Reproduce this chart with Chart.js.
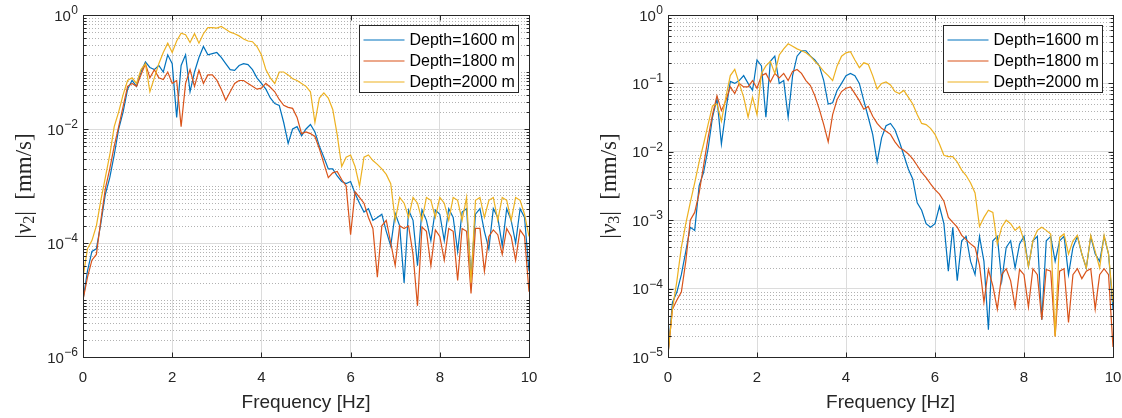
<!DOCTYPE html>
<html>
<head>
<meta charset="utf-8">
<title>|v2| and |v3| spectra</title>
<script src="https://cdn.jsdelivr.net/npm/chart.js@4.4.1/dist/chart.umd.min.js"></script>
<style>
  body { margin: 0; background: #fff; }
  #wrap { position: relative; width: 1122px; height: 418px; }
  canvas { position: absolute; top: 0; }
</style>
</head>
<body>
<div id="wrap">
  <canvas id="chartV2" width="561" height="418" style="left:0"></canvas>
  <canvas id="chartV3" width="561" height="418" style="left:561px"></canvas>
</div>
<script>
// === Dados (frequência em Hz, amplitude em mm/s) ===
const freq = [
  0, 0.1, 0.2, 0.3, 0.4, 0.5, 0.6, 0.7, 0.8, 0.9,
  1, 1.1, 1.2, 1.3, 1.4, 1.5, 1.6, 1.7, 1.8, 1.9,
  2, 2.1, 2.2, 2.3, 2.4, 2.5, 2.6, 2.7, 2.8, 2.9,
  3, 3.1, 3.2, 3.3, 3.4, 3.5, 3.6, 3.7, 3.8, 3.9,
  4, 4.1, 4.2, 4.3, 4.4, 4.5, 4.6, 4.7, 4.8, 4.9,
  5, 5.1, 5.2, 5.3, 5.4, 5.5, 5.6, 5.7, 5.8, 5.9,
  6, 6.1, 6.2, 6.3, 6.4, 6.5, 6.6, 6.7, 6.8, 6.9,
  7, 7.1, 7.2, 7.3, 7.4, 7.5, 7.6, 7.7, 7.8, 7.9,
  8, 8.1, 8.2, 8.3, 8.4, 8.5, 8.6, 8.7, 8.8, 8.9,
  9, 9.1, 9.2, 9.3, 9.4, 9.5, 9.6, 9.7, 9.8, 9.9,
  10
];

// |v2| (gráfico da esquerda)
const v2Depth1600 = [
  1e-5, 3.2e-5, 7.1e-5, 7.9e-5, 2.2e-4, 7.1e-4, 1.4e-3, 3.5e-3, 0.01, 0.02,
  0.05, 0.071, 0.056, 0.1, 0.15, 0.12, 0.11, 0.13, 0.1, 0.2,
  0.14, 0.016, 0.13, 0.2, 0.045, 0.1, 0.18, 0.28, 0.2, 0.21,
  0.22, 0.18, 0.14, 0.11, 0.107, 0.13, 0.14, 0.135, 0.11, 0.079,
  0.063, 0.05, 0.035, 0.028, 0.026, 0.013, 0.0056, 0.01, 0.011, 0.0076,
  0.01, 0.012, 0.0089, 0.005, 0.0032, 0.002, 0.002, 0.0015, 0.0012, 0.0011,
  0.0012, 7.4e-4, 5e-4, 3.5e-4, 4e-4, 2.5e-4, 2.8e-4, 3.2e-4, 1.6e-4, 8.9e-5,
  3.3e-4, 2e-4, 2e-5, 3.8e-4, 2.5e-4, 4e-5, 3.8e-4, 2.5e-4, 1.1e-4, 3.8e-4,
  3.2e-4, 1.1e-4, 4e-4, 2.8e-4, 7.1e-5, 3.5e-4, 4e-4, 2.5e-5, 3.2e-4, 4e-4,
  1.6e-4, 7.9e-5, 4e-4, 2.8e-4, 8.9e-5, 4e-4, 2.5e-4, 1e-4, 4e-4, 2.8e-4,
  3.2e-5
];
const v2Depth1800 = [
  1e-5, 2.5e-5, 5e-5, 6.3e-5, 2.5e-4, 8.9e-4, 2e-3, 5e-3, 0.011, 0.025,
  0.056, 0.063, 0.056, 0.089, 0.14, 0.079, 0.11, 0.079, 0.074, 0.1,
  0.063, 0.071, 0.011, 0.063, 0.11, 0.056, 0.107, 0.063, 0.089, 0.089,
  0.072, 0.05, 0.032, 0.045, 0.063, 0.071, 0.071, 0.063, 0.056, 0.05,
  0.052, 0.063, 0.054, 0.045, 0.033, 0.026, 0.024, 0.023, 0.016, 0.0083,
  0.0089, 0.0083, 0.0074, 0.0045, 0.0025, 0.0014, 0.0017, 0.0018, 0.0013, 0.001,
  1.4e-4, 7.9e-4, 6.3e-4, 5e-4, 2.8e-4, 1.8e-4, 2.5e-5, 2e-4, 2.5e-4, 1e-4,
  4e-5, 2e-4, 1.8e-4, 2e-4, 6.3e-5, 7.9e-6, 1.9e-4, 1.6e-4, 4e-5, 1.7e-4,
  1.3e-4, 5e-5, 1.8e-4, 1.6e-4, 2.2e-5, 1.8e-4, 1.6e-4, 1.3e-5, 1.8e-4, 1.8e-4,
  3.2e-5, 1.3e-4, 1.7e-4, 1.4e-4, 6.3e-5, 1.8e-4, 1.3e-4, 5e-5, 1.7e-4, 1.3e-4,
  1.4e-5
];
const v2Depth2000 = [
  2.5e-5, 7.9e-5, 1.1e-4, 2e-4, 5.6e-4, 1.4e-3, 3.5e-3, 0.011, 0.02, 0.04,
  0.071, 0.079, 0.063, 0.11, 0.14, 0.045, 0.079, 0.14, 0.22, 0.32,
  0.22, 0.35, 0.48, 0.45, 0.33, 0.47, 0.32, 0.47, 0.6, 0.6,
  0.59, 0.63, 0.56, 0.5, 0.47, 0.43, 0.38, 0.35, 0.34, 0.28,
  0.2, 0.11, 0.079, 0.063, 0.1, 0.1, 0.089, 0.076, 0.071, 0.063,
  0.056, 0.045, 0.013, 0.035, 0.043, 0.035, 0.022, 0.0079, 0.0022, 0.0032,
  0.0035, 0.0022, 0.001, 0.0032, 0.0035, 0.0028, 0.0024, 0.002, 0.0016, 0.0011,
  2.5e-4, 6.3e-4, 5e-4, 2.8e-4, 6.3e-4, 5e-4, 2.5e-4, 6.3e-4, 5.6e-4, 2.8e-4,
  6.3e-4, 5e-4, 2.5e-4, 6.3e-4, 5.6e-4, 2.5e-4, 6.3e-4, 2e-5, 5.6e-4, 6.3e-4,
  2.8e-4, 5.6e-4, 6.3e-4, 2.5e-4, 6.3e-4, 5.6e-4, 2.5e-4, 6.3e-4, 5.6e-4, 3.2e-4,
  1.3e-4
];

// |v3| (gráfico da direita)
const v3Depth1600 = [
  1.1e-5, 6.3e-5, 8.9e-5, 1.6e-4, 3.5e-4, 7.9e-4, 7.1e-4, 3.2e-3, 5e-3, 0.011,
  0.032, 0.06, 0.013, 0.04, 0.107, 0.1, 0.11, 0.13, 0.1, 0.079,
  0.22, 0.18, 0.032, 0.21, 0.25, 0.1, 0.11, 0.032, 0.13, 0.25,
  0.3, 0.3, 0.25, 0.22, 0.18, 0.11, 0.05, 0.052, 0.079, 0.1,
  0.13, 0.14, 0.13, 0.1, 0.056, 0.032, 0.018, 0.0071, 0.016, 0.024,
  0.026, 0.021, 0.014, 0.0089, 0.0056, 0.004, 0.0018, 0.0014, 8.9e-4, 7.9e-4,
  8.9e-4, 0.0016, 8.9e-4, 1.8e-4, 7.9e-4, 1.3e-4, 5e-4, 5.8e-4, 2.5e-4, 1.6e-4,
  5.8e-4, 2.5e-4, 2.5e-5, 5e-4, 5.8e-4, 1.3e-4, 4e-4, 5e-4, 2e-4, 4.5e-4,
  5.8e-4, 2.1e-4, 5e-4, 5.8e-4, 3.5e-5, 5e-4, 5.8e-4, 2.5e-4, 5e-4, 5.8e-4,
  1.6e-4, 4e-4, 5.8e-4, 3.2e-4, 2e-4, 5.8e-4, 3.2e-4, 2.5e-4, 5.8e-4, 3.2e-4,
  5e-5
];
const v3Depth1800 = [
  1.1e-5, 5e-5, 6.8e-5, 8.9e-5, 2.5e-4, 1e-3, 1.3e-3, 2.5e-3, 6.3e-3, 0.016,
  0.035, 0.066, 0.04, 0.056, 0.089, 0.071, 0.1, 0.089, 0.089, 0.11,
  0.085, 0.13, 0.14, 0.105, 0.14, 0.12, 0.14, 0.11, 0.15, 0.16,
  0.14, 0.11, 0.093, 0.066, 0.042, 0.025, 0.014, 0.035, 0.058, 0.076,
  0.085, 0.089, 0.071, 0.056, 0.042, 0.046, 0.033, 0.026, 0.022, 0.02,
  0.018, 0.014, 0.0115, 0.0105, 0.0093, 0.0079, 0.0063, 0.005, 0.0042, 0.0034,
  0.0028, 0.0024, 0.0019, 0.0011, 9.3e-4, 7.9e-4, 6e-4, 5.2e-4, 4.5e-4, 4e-4,
  2.2e-4, 6.3e-5, 1.9e-4, 1.1e-4, 5e-5, 1.6e-4, 1.95e-4, 1.3e-4, 5.4e-5, 1.9e-4,
  1.6e-4, 5.4e-5, 1.95e-4, 1.6e-4, 3.5e-5, 1.9e-4, 1.8e-4, 2e-5, 1.8e-4, 1.95e-4,
  3.2e-5, 1.6e-4, 1.95e-4, 1.4e-4, 1.8e-4, 1.95e-4, 5e-5, 1.6e-4, 1.95e-4, 1.6e-4,
  1.4e-5
];
const v3Depth2000 = [
  1.1e-5, 5e-5, 1.3e-4, 4e-4, 8.9e-4, 1.8e-3, 3.5e-3, 7.1e-3, 0.013, 0.025,
  0.047, 0.05, 0.028, 0.063, 0.13, 0.16, 0.1, 0.063, 0.032, 0.063,
  0.035, 0.14, 0.18, 0.21, 0.14, 0.26, 0.32, 0.38, 0.35, 0.32,
  0.3, 0.28, 0.25, 0.21, 0.18, 0.15, 0.13, 0.11, 0.18, 0.25,
  0.28, 0.29, 0.22, 0.17, 0.2, 0.19, 0.13, 0.083, 0.1, 0.105,
  0.095, 0.076, 0.071, 0.079, 0.063, 0.05, 0.035, 0.026, 0.025, 0.022,
  0.018, 0.013, 0.0089, 0.0085, 0.0085, 0.0071, 0.0054, 0.0045, 0.0035, 0.0025,
  8.1e-4, 1.1e-3, 1.4e-3, 1.3e-3, 4.5e-4, 7.9e-4, 1e-3, 8.9e-4, 7.1e-4, 8.1e-4,
  5e-4, 2.1e-4, 5e-4, 7.1e-4, 7.9e-4, 7.1e-4, 6.3e-4, 2e-5, 5.6e-4, 6.3e-4,
  3.2e-4, 5e-4, 6e-4, 3.2e-4, 2e-4, 6e-4, 3.5e-4, 2e-4, 6e-4, 3.2e-4,
  6.3e-5
];

const seriesLabels = ["Depth=1600 m", "Depth=1800 m", "Depth=2000 m"];
const seriesColors = ["#0072BD", "#D95319", "#EDB120"];
const xTicks = [0, 2, 4, 6, 8, 10];
const v2Ticks = [1e-6, 1e-4, 1e-2, 1];
const v3Ticks = [1e-5, 1e-4, 1e-3, 1e-2, 1e-1, 1];

// === Estilo tipo MATLAB ===
const axisColor = "#262626";
const gridColor = "#dcdcdc";
const minorColor = "rgba(0,0,0,0.3)";
const fontSans = "'Liberation Sans', Arial, sans-serif";
const fontSerif = "'Liberation Serif', 'Times New Roman', serif";

// valores 1..9 x 10^k que não são ticks principais (grade pontilhada)
function minorValues(scale, major) {
  const out = [];
  const k0 = Math.floor(Math.log10(scale.min));
  const k1 = Math.ceil(Math.log10(scale.max));
  for (let k = k0; k <= k1; k++) {
    for (let m = 1; m <= 9; m++) {
      const v = m * Math.pow(10, k);
      if (v < scale.min * 0.999 || v > scale.max * 1.001) continue;
      if (major.some((t) => Math.abs(Math.log10(t) - Math.log10(v)) < 1e-6)) continue;
      out.push(v);
    }
  }
  return out;
}

const matlabAxes = {
  id: "matlabAxes",
  beforeDatasetsDraw(chart, args, opts) {
    const { ctx, chartArea: a } = chart;
    const y = chart.scales.y;
    ctx.save();
    ctx.strokeStyle = minorColor;
    ctx.lineWidth = 1;
    ctx.setLineDash([1, 2]);
    minorValues(y, opts.major).forEach((v) => {
      const py = Math.round(y.getPixelForValue(v)) + 0.5;
      ctx.beginPath();
      ctx.moveTo(a.left, py);
      ctx.lineTo(a.right, py);
      ctx.stroke();
    });
    ctx.restore();
  },
  afterDatasetsDraw(chart, args, opts) {
    const { ctx, chartArea: a } = chart;
    const x = chart.scales.x;
    const y = chart.scales.y;
    const L = Math.round(a.left) + 0.5, R = Math.round(a.right) + 0.5;
    const T = Math.round(a.top) + 0.5, B = Math.round(a.bottom) + 0.5;
    ctx.save();

    // caixa dos eixos
    ctx.strokeStyle = axisColor;
    ctx.lineWidth = 1;
    ctx.strokeRect(L, T, R - L, B - T);

    // ticks para dentro
    ctx.beginPath();
    x.ticks.forEach((t) => {
      const px = Math.round(x.getPixelForValue(t.value)) + 0.5;
      ctx.moveTo(px, B); ctx.lineTo(px, B - 5);
      ctx.moveTo(px, T); ctx.lineTo(px, T + 5);
    });
    opts.major.forEach((v) => {
      const py = Math.round(y.getPixelForValue(v)) + 0.5;
      ctx.moveTo(L, py); ctx.lineTo(L + 5, py);
      ctx.moveTo(R, py); ctx.lineTo(R - 5, py);
    });
    minorValues(y, opts.major).forEach((v) => {
      const py = Math.round(y.getPixelForValue(v)) + 0.5;
      ctx.moveTo(L, py); ctx.lineTo(L + 3, py);
      ctx.moveTo(R, py); ctx.lineTo(R - 3, py);
    });
    ctx.stroke();

    // rótulos do eixo x
    ctx.fillStyle = axisColor;
    ctx.font = "15px " + fontSans;
    ctx.textAlign = "center";
    ctx.textBaseline = "middle";
    x.ticks.forEach((t) => {
      ctx.fillText(String(t.value), x.getPixelForValue(t.value), a.bottom + 21);
    });

    // rótulos do eixo y: 10^n
    ctx.textAlign = "right";
    ctx.textBaseline = "alphabetic";
    opts.major.forEach((v) => {
      const py = y.getPixelForValue(v);
      const e = Math.round(Math.log10(v));
      const expText = e < 0 ? "\u2212" + (-e) : String(e);
      ctx.font = "12px " + fontSans;
      const ew = ctx.measureText(expText).width;
      ctx.fillText(expText, a.left - 5, py - 1);
      ctx.font = "15px " + fontSans;
      ctx.fillText("10", a.left - 5 - ew - 0.5, py + 5.5);
    });

    // título do eixo y: |v_n| [mm/s]
    const parts = [
      { t: "|", f: "23px " + fontSerif, dy: 0 },
      { t: "v", f: "italic 23px " + fontSerif, dy: 0 },
      { t: opts.sub, f: "16px " + fontSerif, dy: 5 },
      { t: "|  [mm/s]", f: "23px " + fontSerif, dy: 0 }
    ];
    let total = 0;
    parts.forEach((p) => { ctx.font = p.f; p.w = ctx.measureText(p.t).width; total += p.w; });
    ctx.translate(a.left - 58, (a.top + a.bottom) / 2);
    ctx.rotate(-Math.PI / 2);
    ctx.textAlign = "left";
    ctx.textBaseline = "middle";
    let cx = -total / 2;
    parts.forEach((p) => {
      ctx.font = p.f;
      ctx.fillText(p.t, cx, p.dy);
      cx += p.w;
    });
    ctx.setTransform(1, 0, 0, 1, 0, 0);

    // legenda com moldura
    const items = chart.data.datasets;
    ctx.font = "16px " + fontSans;
    const tw = Math.max(...items.map((d) => ctx.measureText(d.label).width));
    const lineLen = 41, padL = 4, gap = 5, padR = 4;
    const w = Math.round(padL + lineLen + gap + tw + padR);
    const h = 67;
    const bx = Math.round(a.right - 11 - w) + 0.5;
    const by = Math.round(a.top + 10) + 0.5;
    ctx.fillStyle = "#fff";
    ctx.fillRect(bx, by, w, h);
    ctx.strokeStyle = axisColor;
    ctx.lineWidth = 1;
    ctx.strokeRect(bx, by, w, h);
    ctx.textAlign = "left";
    ctx.textBaseline = "middle";
    items.forEach((d, i) => {
      const cy = by + 14.5 + i * 21;
      ctx.strokeStyle = d.borderColor;
      ctx.lineWidth = 1.2;
      ctx.beginPath();
      ctx.moveTo(bx + padL, cy);
      ctx.lineTo(bx + padL + lineLen, cy);
      ctx.stroke();
      ctx.fillStyle = "#000";
      ctx.fillText(d.label, bx + padL + lineLen + gap, cy + 1);
    });
    ctx.restore();
  }
};

// === Função para montar cada gráfico ===
function drawSpectrum(id, series, yTicks, sub, padLeft, padRight) {
  return new Chart(document.getElementById(id), {
    type: "line",
    data: {
      datasets: series.map((vals, i) => ({
        label: seriesLabels[i],
        data: freq.map((f, j) => ({ x: f, y: vals[j] })),
        borderColor: seriesColors[i],
        backgroundColor: seriesColors[i],
        borderWidth: 1.2,
        pointRadius: 0,
        tension: 0,
        order: 2 - i
      }))
    },
    options: {
      responsive: false,
      animation: false,
      devicePixelRatio: 1,
      layout: { padding: { left: padLeft, right: padRight, top: 15, bottom: 0 } },
      plugins: {
        legend: { display: false },
        tooltip: { enabled: false },
        matlabAxes: { major: yTicks, sub: sub }
      },
      scales: {
        x: {
          type: "linear",
          min: 0,
          max: 10,
          afterBuildTicks: (s) => { s.ticks = xTicks.map((v) => ({ value: v })); },
          afterFit: (s) => { s.height = 61; },
          grid: { color: gridColor, drawTicks: false },
          border: { display: false },
          ticks: { display: false },
          title: {
            display: true,
            text: "Frequency [Hz]",
            font: { family: fontSans, size: 19 },
            color: axisColor,
            padding: { top: 0, bottom: 4 }
          }
        },
        y: {
          type: "logarithmic",
          min: yTicks[0],
          max: yTicks[yTicks.length - 1],
          afterBuildTicks: (s) => { s.ticks = yTicks.map((v) => ({ value: v })); },
          afterFit: (s) => { s.width = 83; },
          grid: { color: gridColor, drawTicks: false },
          border: { display: false },
          ticks: { display: false }
        }
      }
    },
    plugins: [matlabAxes]
  });
}

drawSpectrum("chartV2", [v2Depth1600, v2Depth1800, v2Depth2000], v2Ticks, "2", 0, 32);
drawSpectrum("chartV3", [v3Depth1600, v3Depth1800, v3Depth2000], v3Ticks, "3", 24, 9);
</script>
</body>
</html>
